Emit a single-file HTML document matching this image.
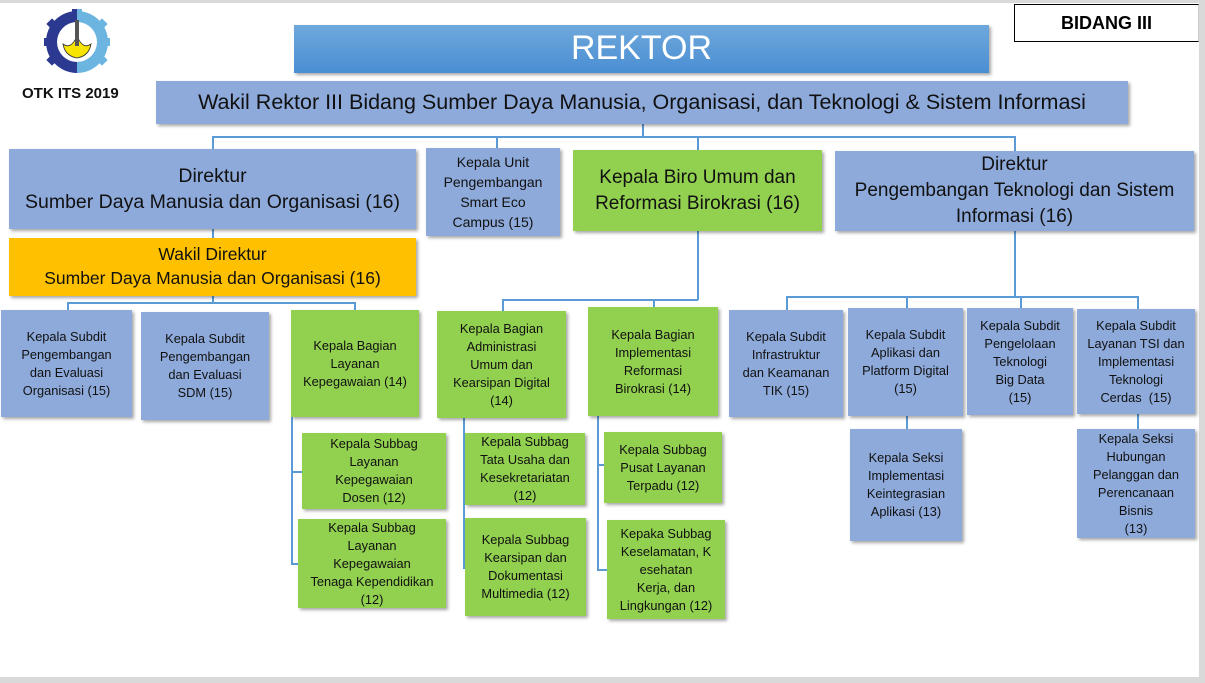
<!DOCTYPE html>
<html><head><meta charset="utf-8"><style>
html,body{margin:0;padding:0}
body{width:1205px;height:683px;position:relative;background:#d9d9d9;overflow:hidden;font-family:"Liberation Sans",sans-serif}
#pg{position:absolute;left:0;top:3px;width:1199px;height:674px;background:#fff}
.b{position:absolute;display:flex;align-items:center;justify-content:center;text-align:center;box-shadow:2px 2px 3px rgba(0,0,0,.35);color:#111;box-sizing:border-box;line-height:1.35}
.bl{background:#8eaadb}.g{background:#92d050}.y{background:#ffc000}
.s{font-size:12.8px;line-height:18px}
.l{position:absolute;background:#5b9bd5}
</style></head><body>
<div id="pg"></div>
<div class="l" style="left:642px;top:124px;width:2px;height:13px"></div>
<div class="l" style="left:212px;top:136px;width:803px;height:1.5px"></div>
<div class="l" style="left:212px;top:136px;width:1.5px;height:14px"></div>
<div class="l" style="left:496px;top:136px;width:1.5px;height:13px"></div>
<div class="l" style="left:697px;top:136px;width:1.5px;height:15px"></div>
<div class="l" style="left:1014px;top:136px;width:1.5px;height:16px"></div>
<div class="l" style="left:212px;top:228px;width:1.5px;height:75px"></div>
<div class="l" style="left:67px;top:302px;width:288px;height:1.5px"></div>
<div class="l" style="left:67px;top:302px;width:1.5px;height:9px"></div>
<div class="l" style="left:354px;top:302px;width:1.5px;height:9px"></div>
<div class="l" style="left:697px;top:231px;width:1.5px;height:69px"></div>
<div class="l" style="left:502px;top:299px;width:196px;height:1.5px"></div>
<div class="l" style="left:502px;top:299px;width:1.5px;height:13px"></div>
<div class="l" style="left:653px;top:299px;width:1.5px;height:9px"></div>
<div class="l" style="left:1014px;top:231px;width:1.5px;height:66px"></div>
<div class="l" style="left:786px;top:296px;width:352px;height:1.5px"></div>
<div class="l" style="left:786px;top:296px;width:1.5px;height:15px"></div>
<div class="l" style="left:906px;top:296px;width:1.5px;height:13px"></div>
<div class="l" style="left:1020px;top:296px;width:1.5px;height:13px"></div>
<div class="l" style="left:1137px;top:296px;width:1.5px;height:14px"></div>
<div class="l" style="left:906px;top:416px;width:1.5px;height:14px"></div>
<div class="l" style="left:1137px;top:414px;width:1.5px;height:16px"></div>
<div class="l" style="left:291px;top:417px;width:1.5px;height:147px"></div>
<div class="l" style="left:291px;top:471px;width:12px;height:1.5px"></div>
<div class="l" style="left:291px;top:563px;width:8px;height:1.5px"></div>
<div class="l" style="left:463px;top:418px;width:1.5px;height:150px"></div>
<div class="l" style="left:463px;top:469px;width:3px;height:1.5px"></div>
<div class="l" style="left:463px;top:567px;width:3px;height:1.5px"></div>
<div class="l" style="left:597px;top:416px;width:1.5px;height:154px"></div>
<div class="l" style="left:597px;top:464px;width:8px;height:1.5px"></div>
<div class="l" style="left:597px;top:569px;width:11px;height:1.5px"></div>

<svg style="position:absolute;left:44px;top:9px" width="66" height="66" viewBox="0 0 66 66">
<g transform="translate(33,33)">
<path d="M0,-31 L0,31 A31,31 0 0,1 0,-31Z" fill="#2b3990"/>
<path d="M0,-31 A31,31 0 0,1 0,31Z" fill="#6bb5e0"/>
<g fill="#2b3990">
<rect x="-5" y="-33" width="5" height="8"/><rect x="-33" y="-4" width="8" height="8"/><rect x="-29" y="-22" width="8" height="7" transform="rotate(-45 -25 -18)"/><rect x="-29" y="15" width="8" height="7" transform="rotate(45 -25 18)"/>
</g>
<g fill="#6bb5e0">
<rect x="0" y="-33" width="5" height="8"/><rect x="25" y="-4" width="8" height="8"/><rect x="21" y="-22" width="8" height="7" transform="rotate(45 25 -18)"/><rect x="21" y="15" width="8" height="7" transform="rotate(-45 25 18)"/>
</g>
<circle r="20" fill="#fff"/>
<path d="M-14,2 Q-12,14 0,16 Q12,14 14,2 Q6,8 0,-6 Q-6,8 -14,2Z" fill="#f7e400" stroke="#333" stroke-width=".8"/>
<rect x="-2" y="-22" width="4" height="26" fill="#555"/>
</g></svg>
<div style="position:absolute;left:22px;top:85px;font-weight:bold;font-size:15px;color:#111">OTK ITS 2019</div>
<div style="position:absolute;left:1014px;top:4px;width:185px;height:38px;box-sizing:border-box;border:1px solid #000;border-right-color:#ccc;display:flex;align-items:center;justify-content:center;font-weight:bold;font-size:18px">BIDANG III</div>

<div class="b" style="left:294px;top:25px;width:695px;height:48px;background:linear-gradient(#6fa8dc,#4a8ed3);color:#fff;font-size:34px">REKTOR</div>
<div class="b bl" style="left:156px;top:81px;width:972px;height:43px;font-size:21.5px">Wakil Rektor III Bidang Sumber Daya Manusia, Organisasi, dan Teknologi &amp; Sistem Informasi</div>

<div class="b bl" style="left:9px;top:149px;width:407px;height:80px;font-size:19.5px">Direktur<br>Sumber Daya Manusia dan Organisasi (16)</div>
<div class="b bl s" style="left:426px;top:148px;width:134px;height:88px;font-size:14px;line-height:20px">Kepala Unit<br>Pengembangan<br>Smart Eco<br>Campus (15)</div>
<div class="b g" style="left:573px;top:150px;width:249px;height:81px;font-size:19px">Kepala Biro Umum dan<br>Reformasi Birokrasi (16)</div>
<div class="b bl" style="left:835px;top:151px;width:359px;height:80px;font-size:19px;line-height:26px">Direktur<br>Pengembangan Teknologi dan Sistem<br>Informasi (16)</div>
<div class="b y" style="left:9px;top:238px;width:407px;height:58px;font-size:17.5px">Wakil Direktur<br>Sumber Daya Manusia dan Organisasi (16)</div>

<div class="b bl s" style="left:1px;top:310px;width:131px;height:107px">Kepala Subdit<br>Pengembangan<br>dan Evaluasi<br>Organisasi (15)</div>
<div class="b bl s" style="left:141px;top:312px;width:128px;height:108px">Kepala Subdit<br>Pengembangan<br>dan Evaluasi<br>SDM (15)</div>
<div class="b g s" style="left:291px;top:310px;width:128px;height:107px">Kepala Bagian<br>Layanan<br>Kepegawaian (14)</div>
<div class="b g s" style="left:437px;top:311px;width:129px;height:107px">Kepala Bagian<br>Administrasi<br>Umum dan<br>Kearsipan Digital<br>(14)</div>
<div class="b g s" style="left:588px;top:307px;width:130px;height:109px">Kepala Bagian<br>Implementasi<br>Reformasi<br>Birokrasi (14)</div>
<div class="b bl s" style="left:729px;top:310px;width:114px;height:107px">Kepala Subdit<br>Infrastruktur<br>dan Keamanan<br>TIK (15)</div>
<div class="b bl s" style="left:848px;top:308px;width:115px;height:108px">Kepala Subdit<br>Aplikasi dan<br>Platform Digital<br>(15)</div>
<div class="b bl s" style="left:967px;top:308px;width:106px;height:107px">Kepala Subdit<br>Pengelolaan<br>Teknologi<br>Big Data<br>(15)</div>
<div class="b bl s" style="left:1077px;top:309px;width:118px;height:105px">Kepala Subdit<br>Layanan TSI dan<br>Implementasi<br>Teknologi<br>Cerdas &nbsp;(15)</div>

<div class="b g s" style="left:302px;top:433px;width:144px;height:76px">Kepala Subbag<br>Layanan<br>Kepegawaian<br>Dosen (12)</div>
<div class="b g s" style="left:298px;top:519px;width:148px;height:89px">Kepala Subbag<br>Layanan<br>Kepegawaian<br>Tenaga Kependidikan<br>(12)</div>
<div class="b g s" style="left:465px;top:433px;width:120px;height:72px">Kepala Subbag<br>Tata Usaha dan<br>Kesekretariatan<br>(12)</div>
<div class="b g s" style="left:465px;top:518px;width:121px;height:98px">Kepala Subbag<br>Kearsipan dan<br>Dokumentasi<br>Multimedia (12)</div>
<div class="b g s" style="left:604px;top:432px;width:118px;height:71px">Kepala Subbag<br>Pusat Layanan<br>Terpadu (12)</div>
<div class="b g s" style="left:607px;top:520px;width:118px;height:99px">Kepaka Subbag<br>Keselamatan, K<br>esehatan<br>Kerja, dan<br>Lingkungan (12)</div>
<div class="b bl s" style="left:850px;top:429px;width:112px;height:112px">Kepala Seksi<br>Implementasi<br>Keintegrasian<br>Aplikasi (13)</div>
<div class="b bl s" style="left:1077px;top:429px;width:118px;height:109px">Kepala Seksi<br>Hubungan<br>Pelanggan dan<br>Perencanaan<br>Bisnis<br>(13)</div>
</body></html>
